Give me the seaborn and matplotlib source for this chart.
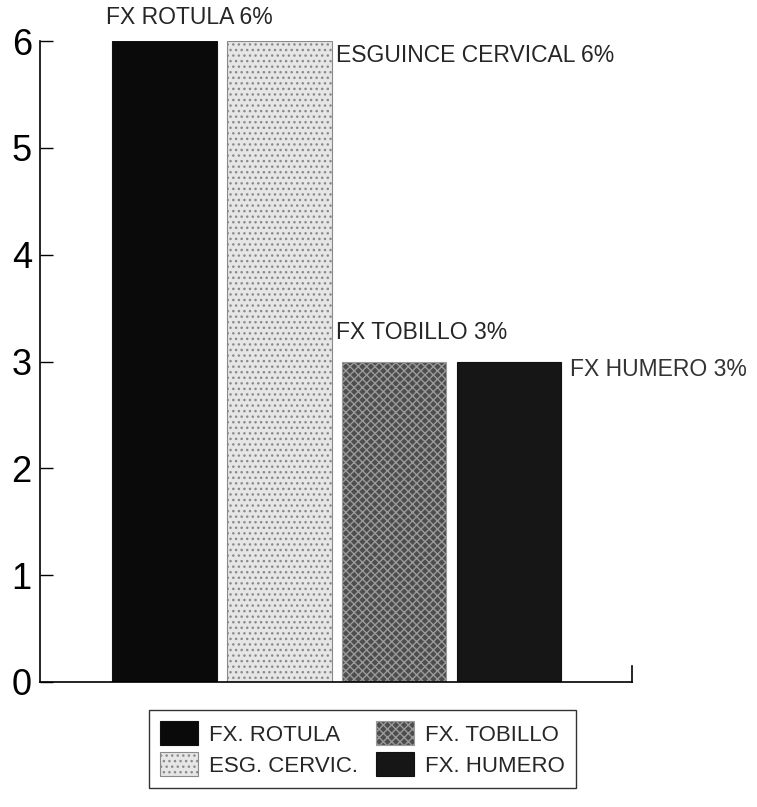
import numpy as np
import matplotlib
matplotlib.use("Agg")
import matplotlib.pyplot as plt
import seaborn as sns

categories = ["FX ROTULA", "ESGUINCE CERVICAL", "FX TOBILLO", "FX HUMERO"]
values = [6, 6, 3, 3]
legend_labels = ["FX. ROTULA", "ESG. CERVIC.", "FX. TOBILLO", "FX. HUMERO"]
bar_labels = ["FX ROTULA 6%", "ESGUINCE CERVICAL 6%", "FX TOBILLO 3%", "FX HUMERO 3%"]
colors = ["#0a0a0a", "#e6e6e6", "#4d4d4d", "#161616"]
hatches = ["", "...", "xxxx", ""]
edges = ["#111111", "#8a8a8a", "#9a9a9a", "#111111"]

sns.set_theme(style="white")
plt.rcParams["font.family"] = ["Liberation Sans", "DejaVu Sans"]

fig = plt.figure(figsize=(7.57, 8.07), dpi=100)
ax = fig.add_axes([0.053, 0.155, 0.782, 0.794])

sns.barplot(x=categories, y=values, hue=categories, palette=colors,
            legend=False, width=0.91, ax=ax, saturation=1)

for patch, h, ec in zip(ax.patches, hatches, edges):
    patch.set_edgecolor(ec)
    patch.set_linewidth(0.8)
    if h:
        patch.set_hatch(h)

ax.set_xlim(-1.08, 4.07)
ax.set_ylim(0, 6)
ax.set_yticks(range(0, 7))
ax.set_xticks([])
ax.tick_params(axis="y", direction="in", length=9, width=1, labelsize=26,
               left=True, pad=6, colors="black")

ax.spines["top"].set_visible(False)
for side in ["left", "bottom", "right"]:
    ax.spines[side].set_color("black")
    ax.spines[side].set_linewidth(1.2)
ax.spines["right"].set_bounds(0, 0.15)

# labels near bars
ax.text(0.22, 6.22, bar_labels[0], ha="center", va="center", fontsize=16.5)
ax.text(1.49, 5.87, bar_labels[1], ha="left", va="center", fontsize=16.5)
ax.text(1.49, 3.27, bar_labels[2], ha="left", va="center", fontsize=16.5)
ax.text(3.53, 2.93, bar_labels[3], ha="left", va="center", fontsize=16.5, color="#333333")
for t in ax.texts:
    t.set_clip_on(False)

handles = list(ax.patches)
leg = fig.legend(handles, legend_labels, ncol=2, loc="center",
                 bbox_to_anchor=(0.479, 0.072), fontsize=16,
                 frameon=True, fancybox=False, edgecolor="black",
                 handlelength=1.7, handleheight=1.3, columnspacing=0.8,
                 labelspacing=0.3, handletextpad=0.5, borderpad=0.5)
leg.get_frame().set_linewidth(1.0)

fig.savefig("out.png", dpi=100)
